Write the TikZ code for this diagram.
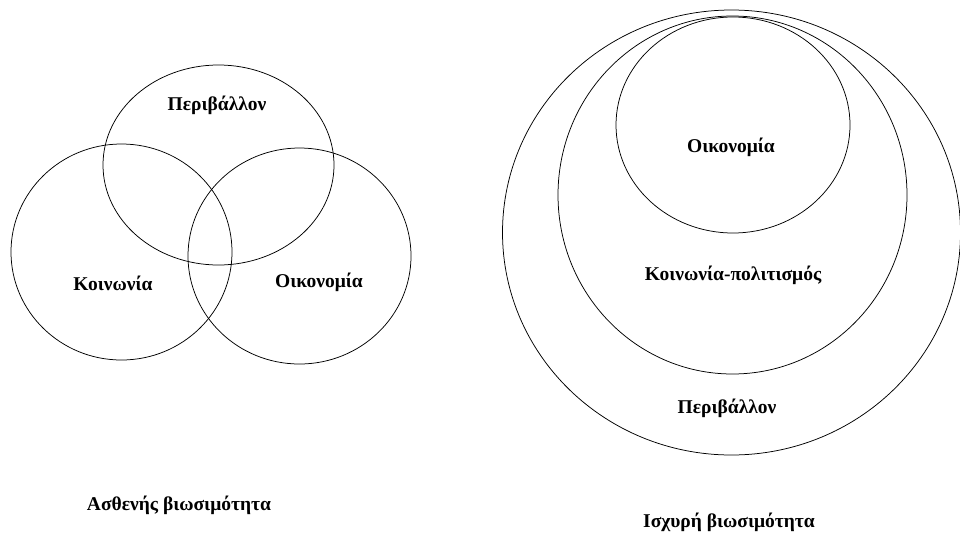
\documentclass[tikz,border=0pt]{standalone}
\usepackage{fontspec}
\setmainfont{Liberation Serif}
\usetikzlibrary{shapes.geometric}
\begin{document}
\begin{tikzpicture}[x=1pt,y=-1pt,
  ring/.style={draw=black,line width=0.75pt,ellipse,inner sep=0pt},
  lbl/.style={font=\bfseries\fontsize{19.5}{23}\selectfont,inner sep=0pt}]
\useasboundingbox (0,0) rectangle (960,533);
\clip (0,0) rectangle (960,533);
% weak sustainability (Venn)
\node[ring,minimum width=231pt,minimum height=200pt] (env1) at (218.5,165) {};
\node[ring,minimum width=221pt,minimum height=216pt] (soc1) at (121.5,252) {};
\node[ring,minimum width=223pt,minimum height=216pt] (eco1) at (299.5,256) {};
\node[lbl] (tenv1) at (217,105) {Περιβάλλον};
\node[lbl] (tsoc1) at (113,283) {Κοινωνία};
\node[lbl] (teco1) at (319,282) {Οικονομία};
\node[lbl] (weak) at (179,505) {Ασθενής βιωσιμότητα};
% strong sustainability (nested)
\node[ring,minimum width=458pt,minimum height=445pt] (env2) at (731.5,232.5) {};
\node[ring,minimum width=349pt,minimum height=358pt] (soc2) at (732.5,195) {};
\node[ring,minimum width=234pt,minimum height=216pt] (eco2) at (733,125) {};
\node[lbl] (teco2) at (731,147) {Οικονομία};
\node[lbl] (tsoc2) at (733,275) {Κοινωνία-πολιτισμός};
\node[lbl] (tenv2) at (727,408) {Περιβάλλον};
\node[lbl] (strong) at (729,522) {Ισχυρή βιωσιμότητα};
\end{tikzpicture}
\end{document}
